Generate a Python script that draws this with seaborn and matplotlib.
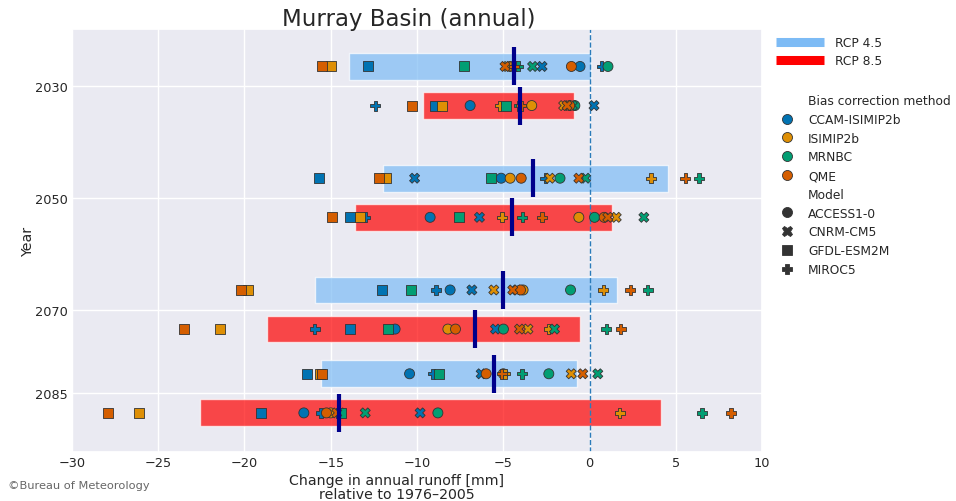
import numpy as np
import pandas as pd
import matplotlib
matplotlib.use('Agg')
import matplotlib.pyplot as plt
from matplotlib.lines import Line2D
import seaborn as sns

sns.set_theme(style='darkgrid')

years = [2030, 2050, 2070, 2085]
scenarios = ['RCP 4.5', 'RCP 8.5']
methods = ['CCAM-ISIMIP2b', 'ISIMIP2b', 'MRNBC', 'QME']
models = ['ACCESS1-0', 'CNRM-CM5', 'GFDL-ESM2M', 'MIROC5']

# change in annual runoff [mm]; order: method x model (ACCESS, CNRM, GFDL, MIROC)
rcp45_2030 = [-0.55, -2.75, -12.85, 0.7,
              -4.6, -4.75, -15.0, -4.3,
              1.07, -3.3, -7.3, -4.15,
              -1.05, -4.9, -15.5, -4.4]
rcp85_2030 = [-6.92, 0.26, -8.97, -12.42,
              -3.35, -1.5, -8.54, -5.2,
              -0.85, -1.0, -4.85, -4.1,
              -1.15, -1.3, -10.3, -3.95]
rcp45_2050 = [-5.12, -10.14, -15.7, -2.57,
              -4.6, -2.3, -11.8, 3.57,
              -1.71, -0.23, -5.7, 6.34,
              -3.96, -0.62, -12.2, 5.55]
rcp85_2050 = [-9.24, -6.38, -13.91, -12.99,
              -0.62, 1.55, -13.28, -5.08,
              0.29, 3.15, -7.58, -3.9,
              0.85, 1.06, -14.94, -2.75]
rcp45_2070 = [-8.08, -6.82, -12.04, -8.89,
              -3.85, -5.55, -19.77, 0.81,
              -1.1, -4.2, -10.34, 3.38,
              -4.0, -4.45, -20.19, 2.36]
rcp85_2070 = [-11.27, -5.45, -13.91, -15.94,
              -8.21, -3.57, -21.4, -2.36,
              -4.99, -2.03, -11.69, 0.97,
              -7.77, -4.06, -23.5, 1.8]
rcp45_2085 = [-10.43, -6.28, -16.39, -9.08,
              -5.0, -1.06, -15.6, -4.9,
              -2.36, 0.48, -8.73, -3.92,
              -5.99, -0.39, -15.5, -5.1]
rcp85_2085 = [-16.56, -9.82, -19.03, -15.56,
              -15.0, -14.45, -26.12, 1.74,
              -8.79, -13.0, -14.43, 6.53,
              -15.25, -14.65, -27.92, 8.21]

rcp45 = [rcp45_2030, rcp45_2050, rcp45_2070, rcp45_2085]
rcp85 = [rcp85_2030, rcp85_2050, rcp85_2070, rcp85_2085]

offset = {'RCP 4.5': -3.5, 'RCP 8.5': 3.5}
bar_colors = {'RCP 4.5': '#7DBBF5', 'RCP 8.5': '#FF0000'}

rows = []
for year, v45, v85 in zip(years, rcp45, rcp85):
    for scn, vals in zip(scenarios, [v45, v85]):
        i = 0
        for m in methods:
            for mod in models:
                rows.append({'Year': year, 'Scenario': scn,
                             'Bias correction method': m, 'Model': mod,
                             'change': vals[i]})
                i += 1
df = pd.DataFrame(rows)
df['ypos'] = df['Year'] + df['Scenario'].map(offset)

# bars = 10th-90th percentile range, dark line = median
stats = df.groupby(['Year', 'Scenario'])['change'].quantile([0.1, 0.5, 0.9]).unstack()
stats.columns = ['lo', 'med', 'hi']
stats = stats.reset_index()
stats['ypos'] = stats['Year'] + stats['Scenario'].map(offset)

fig = plt.figure(figsize=(9.56, 5.02), dpi=100)
ax = fig.add_axes([0.0753, 0.0976, 0.7218, 0.8426])

for scn in scenarios:
    s = stats[stats['Scenario'] == scn]
    ax.barh(s['ypos'], s['hi'] - s['lo'], left=s['lo'], height=4.8,
            color=bar_colors[scn], alpha=0.7, zorder=1)

ax.axvline(0, color='#2b7bba', ls='--', lw=1, zorder=2)

sns.scatterplot(data=df, x='change', y='ypos', hue='Bias correction method',
                style='Model', hue_order=methods, style_order=models,
                markers=['o', 'X', 's', 'P'], palette='colorblind', s=52,
                edgecolor='0.2', linewidth=0.6, ax=ax, zorder=3)

ax.vlines(stats['med'], stats['ypos'] - 3.4, stats['ypos'] + 3.4,
          color='#00008B', lw=3, zorder=4)

ax.set_xlim(-30, 10)
ax.set_ylim(2095.5, 2019.8)
ax.set_yticks(years)
ax.set_xticks(np.arange(-30, 11, 5))
ax.tick_params(labelsize=9.3, length=0, pad=3)
ax.set_title('Murray Basin (annual)', fontsize=16.5, x=0.488, pad=3)
ax.set_xlabel('Change in annual runoff [mm]\nrelative to 1976–2005', fontsize=10.2,
              linespacing=0.95)
ax.xaxis.set_label_coords(0.471, -0.05, transform=ax.transAxes)
ax.xaxis.label.set_va('top')
ax.set_ylabel('Year', fontsize=10.2, labelpad=0)

handles, labels = ax.get_legend_handles_labels()
leg2 = ax.legend(handles, labels, loc='upper left', bbox_to_anchor=(1.003, 0.872),
                 frameon=False, fontsize=8.8, labelspacing=0.47, handletextpad=0.7)
ax.add_artist(leg2)

rcp_handles = [Line2D([0], [0], color=bar_colors[s], lw=6.5, solid_capstyle='butt')
               for s in scenarios]
leg1 = ax.legend(rcp_handles, scenarios, loc='upper left', bbox_to_anchor=(1.005, 1.01),
                 frameon=False, fontsize=8.8, handlelength=3.9, handletextpad=0.9,
                 labelspacing=0.45)

fig.text(0.008, 0.025, '©Bureau of Meteorology', fontsize=8.2, color='0.4')

fig.savefig('out.png', dpi=100)
